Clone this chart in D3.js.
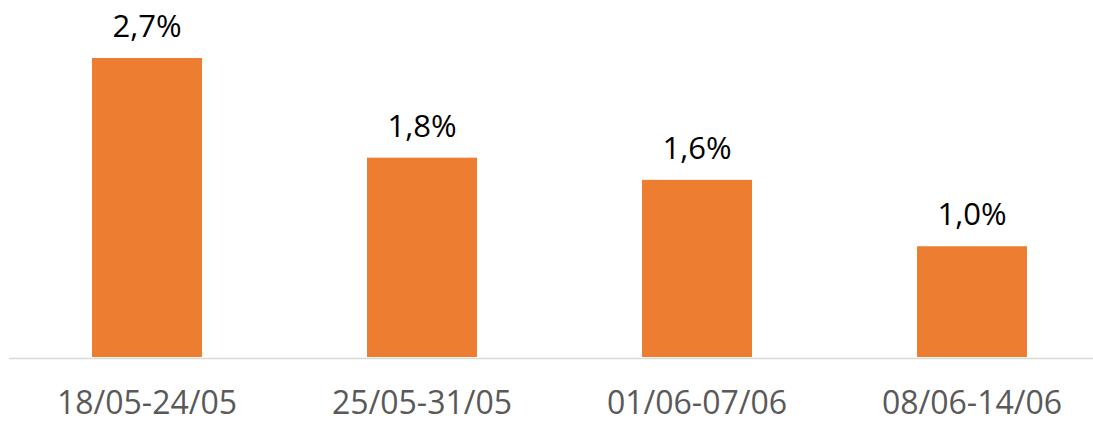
<!DOCTYPE html>
<html>
<head>
<meta charset="utf-8">
<script src="https://cdn.jsdelivr.net/npm/d3@7"></script>
<style>
  body { margin: 0; background: #fff; }
  svg { display: block; font-family: "Open Sans", "Liberation Sans", sans-serif; }
</style>
</head>
<body>
<svg id="chart" width="1093" height="423"></svg>
<script>
// data
const weeks = ['18/05-24/05', '25/05-31/05', '01/06-07/06', '08/06-14/06'];
const values = [2.7, 1.8, 1.6, 1.0];
const labels = ['2,7%', '1,8%', '1,6%', '1,0%'];

const svg = d3.select('#chart');
const baseY = 357;

let x = d3.scaleBand()
  .domain(weeks)
  .range([9.5, 1109.5])
  .paddingInner(0.6)
  .paddingOuter(0.3);

let y = d3.scaleLinear()
  .domain([0, 2.7])
  .range([baseY, 58]);

// bars
svg.selectAll('.bar')
  .data(values)
  .enter().append('rect')
    .attr('class', 'bar')
    .attr('x', (d, i) => x(weeks[i]))
    .attr('y', d => y(d))
    .attr('width', x.bandwidth())
    .attr('height', d => baseY - y(d))
    .attr('fill', '#ed7d31');

// baseline
svg.append('line')
  .attr('x1', 9).attr('x2', 1093)
  .attr('y1', baseY + 1.5).attr('y2', baseY + 1.5)
  .attr('stroke', '#d9d9d9')
  .attr('stroke-width', 1.5);

// value labels
svg.selectAll('.val')
  .data(values)
  .enter().append('text')
    .attr('class', 'val')
    .attr('x', (d, i) => x(weeks[i]) + x.bandwidth() / 2)
    .attr('y', d => y(d) - 21)
    .attr('text-anchor', 'middle')
    .attr('font-size', 31)
    .attr('fill', '#000')
    .text((d, i) => labels[i]);

// category labels
svg.selectAll('.cat')
  .data(weeks)
  .enter().append('text')
    .attr('class', 'cat')
    .attr('x', d => x(d) + x.bandwidth() / 2)
    .attr('y', 414)
    .attr('text-anchor', 'middle')
    .attr('font-size', 32)
    .attr('fill', '#595959')
    .text(d => d);
</script>
</body>
</html>
